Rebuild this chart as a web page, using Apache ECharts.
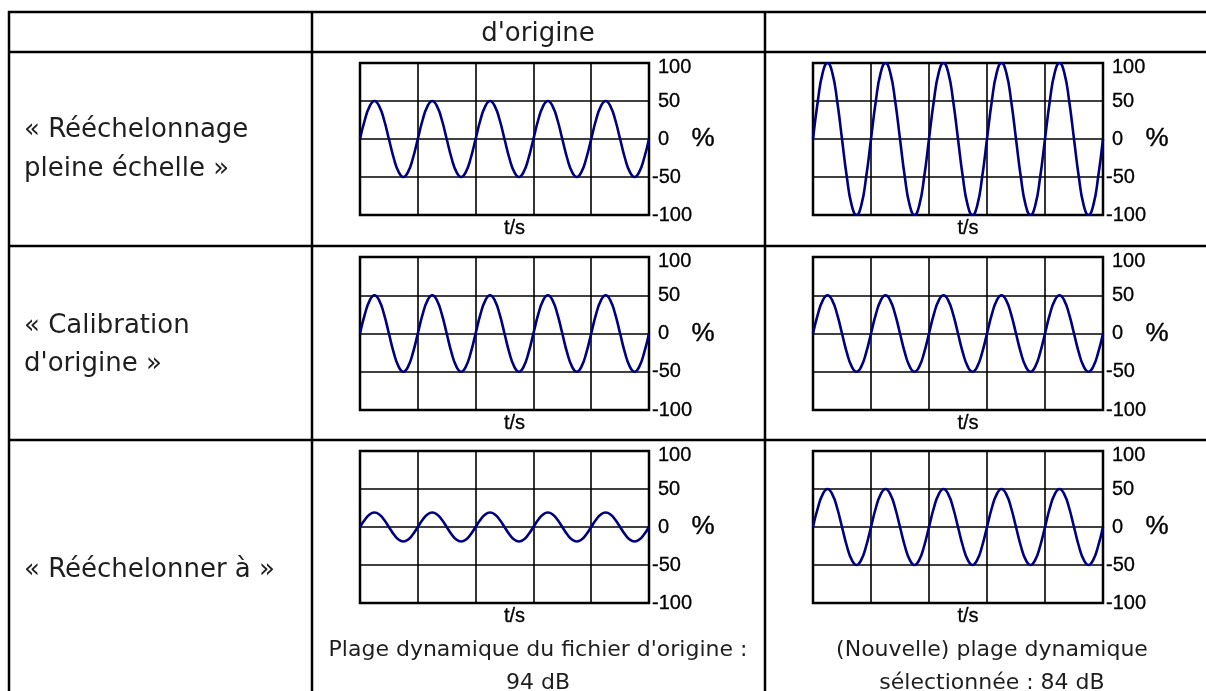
<!DOCTYPE html>
<html>
<head>
<meta charset="utf-8">
<script src="https://cdn.jsdelivr.net/npm/echarts@6/dist/echarts.min.js"></script>
<style>
  html, body { margin: 0; padding: 0; background: #fff; }
  #chart { width: 1206px; height: 691px; }
</style>
</head>
<body>
<div id="chart"></div>
<script>
// ---------- data ----------
const headerLabels = ["", "d'origine", ""];
const rowLabels = [
  ["« Rééchelonnage", "pleine échelle »"],
  ["« Calibration", "d'origine »"],
  ["« Rééchelonner à »"]
];
const captionOriginal = ["Plage dynamique du fichier d'origine :", "94 dB"];
const captionNew = ["(Nouvelle) plage dynamique", "sélectionnée : 84 dB"];
const yTicks = [-100, -50, 0, 50, 100];
const xDivisions = 5;          // seconds shown on t/s axis
const samplesPerSecond = 12;   // samples read per period (one period per second)
const yUnit = "%";
const xName = "t/s";

// amplitude ~50 %
const wave50 = [
  0, 25, 43, 50, 43, 25, 0, -25, -43, -50, -43, -25,
  0, 25, 43, 50, 43, 25, 0, -25, -43, -50, -43, -25,
  0, 25, 43, 50, 43, 25, 0, -25, -43, -50, -43, -25,
  0, 25, 43, 50, 43, 25, 0, -25, -43, -50, -43, -25,
  0, 25, 43, 50, 43, 25, 0, -25, -43, -50, -43, -25,
  0
];
// full scale ~100 %
const wave100 = [
  0, 50, 87, 100, 87, 50, 0, -50, -87, -100, -87, -50,
  0, 50, 87, 100, 87, 50, 0, -50, -87, -100, -87, -50,
  0, 50, 87, 100, 87, 50, 0, -50, -87, -100, -87, -50,
  0, 50, 87, 100, 87, 50, 0, -50, -87, -100, -87, -50,
  0, 50, 87, 100, 87, 50, 0, -50, -87, -100, -87, -50,
  0
];
// low level ~19 %
const wave19 = [
  0, 9.5, 16.5, 19, 16.5, 9.5, 0, -9.5, -16.5, -19, -16.5, -9.5,
  0, 9.5, 16.5, 19, 16.5, 9.5, 0, -9.5, -16.5, -19, -16.5, -9.5,
  0, 9.5, 16.5, 19, 16.5, 9.5, 0, -9.5, -16.5, -19, -16.5, -9.5,
  0, 9.5, 16.5, 19, 16.5, 9.5, 0, -9.5, -16.5, -19, -16.5, -9.5,
  0, 9.5, 16.5, 19, 16.5, 9.5, 0, -9.5, -16.5, -19, -16.5, -9.5,
  0
];
// panels: [row][col] (col 0 = original, col 1 = new)
const panelWaves = [
  [wave50, wave100],
  [wave50, wave50],
  [wave19, wave50]
];

// ---------- layout ----------
const colLeft = [360, 813];
const plotW = [289, 290];
const rowTop = [63, 257, 451];
const plotH = [152, 153, 152];
const tableX = [9, 312, 765];
const tableY = [12, 52, 246, 440];

const textFont = "'DejaVu Sans', sans-serif";
const axisFont = "'Liberation Sans', Arial, sans-serif";
const textColor = "#1e1e1e";

const grids = [], xAxes = [], yAxes = [], series = [];
let gi = 0;
for (let r = 0; r < 3; r++) {
  for (let c = 0; c < 2; c++) {
    grids.push({
      left: colLeft[c], top: rowTop[r], width: plotW[c], height: plotH[r],
      show: true, borderColor: '#000', borderWidth: 2.5, backgroundColor: 'transparent'
    });
    xAxes.push({
      gridIndex: gi, type: 'value', min: 0, max: xDivisions, interval: 1,
      axisLine: { show: false }, axisTick: { show: false }, axisLabel: { show: false },
      splitLine: { show: true, lineStyle: { color: '#000', width: 1.6 } },
      name: xName, nameLocation: 'middle', nameGap: 3, nameMoveOverlap: false,
      nameTextStyle: { fontFamily: axisFont, fontSize: 20, color: '#000',
        textBorderColor: '#000', textBorderWidth: 0.3,
        verticalAlign: 'top', align: 'center', padding: [0, 0, 0, 20] }
    });
    yAxes.push({
      gridIndex: gi, type: 'value', position: 'right',
      min: yTicks[0], max: yTicks[yTicks.length - 1], interval: 50,
      axisLine: { show: false }, axisTick: { show: false },
      splitLine: { show: true, lineStyle: { color: '#000', width: 1.6 } },
      axisLabel: {
        margin: 3, align: 'left',
        formatter: v => {
          if (v < 0) return '{n|' + v + '}';
          if (v === yTicks[yTicks.length - 1]) return '{p| }{t|' + v + '}';
          return '{p| }{n|' + v + '}';
        },
        rich: {
          n: { fontFamily: axisFont, fontSize: 20, color: '#000', textBorderColor: '#000', textBorderWidth: 0.3 },
          t: { fontFamily: axisFont, fontSize: 20, color: '#000', textBorderColor: '#000', textBorderWidth: 0.3, padding: [8, 0, 0, 0] },
          p: { width: 6, fontSize: 20 }
        }
      },
      name: yUnit, nameLocation: 'middle', nameRotate: 0, nameGap: 54, nameMoveOverlap: false,
      nameTextStyle: { fontFamily: axisFont, fontSize: 26, color: '#000',
        textBorderColor: '#000', textBorderWidth: 0.4,
        align: 'center', verticalAlign: 'middle', padding: [2, 0, 0, 0] }
    });
    const w = panelWaves[r][c];
    series.push({
      type: 'line', xAxisIndex: gi, yAxisIndex: gi,
      data: w.map((v, i) => [i / samplesPerSecond, v]),
      smooth: 0.5, showSymbol: false, symbol: 'none',
      lineStyle: { color: '#00007e', width: 2.6 }, z: 5, silent: true
    });
    gi++;
  }
}

// table rules and texts
const graphics = [];
const line = (x1, y1, x2, y2) => graphics.push({
  type: 'line', shape: { x1, y1, x2, y2 }, style: { stroke: '#000', lineWidth: 2.5 }, silent: true
});
tableY.forEach(y => line(tableX[0] - 1, y, 1206, y));
tableX.forEach(x => line(x, tableY[0] - 1, x, 691));

const txt = (s, x, y, size, align) => graphics.push({
  type: 'text', x, y, silent: true,
  style: { text: s, font: size + 'px ' + textFont, fill: textColor, align: align || 'left', verticalAlign: 'middle' }
});
// header
txt(headerLabels[1], 538, 34, 26, 'center');
// row labels
const rowLabelY = [[130, 169], [326, 364], [570]];
rowLabels.forEach((lines, r) => lines.forEach((s, k) => txt(s, 24, rowLabelY[r][k], 26)));
// captions
txt(captionOriginal[0], 538, 650, 22, 'center');
txt(captionOriginal[1], 538, 683, 22, 'center');
txt(captionNew[0], 992, 650, 22, 'center');
txt(captionNew[1], 992, 683, 22, 'center');

const chart = echarts.init(document.getElementById('chart'), null, { renderer: 'canvas' });
chart.setOption({
  backgroundColor: '#fff',
  animation: false,
  grid: grids, xAxis: xAxes, yAxis: yAxes, series,
  graphic: graphics
});
</script>
</body>
</html>
